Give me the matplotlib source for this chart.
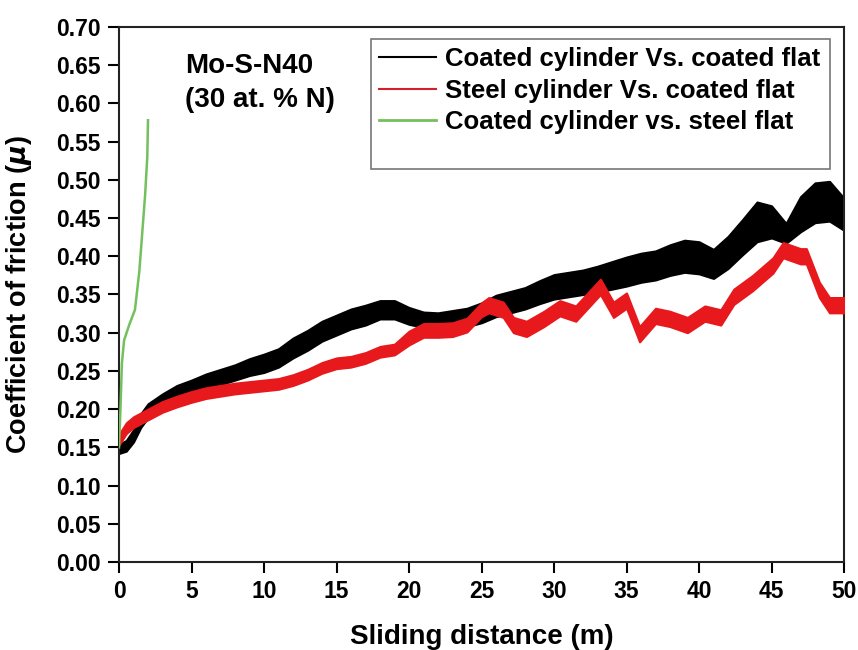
import matplotlib
matplotlib.use("Agg")
import matplotlib.pyplot as plt
from matplotlib.patches import Rectangle

# coated cylinder vs coated flat (black band: centre and half-width)
black_x = [0, 0.5, 1, 1.5, 2, 3, 4, 5, 6, 7, 8, 9, 10, 11, 12, 13, 14, 15, 16, 17, 18, 19, 20,
           21, 22, 23, 24, 25, 26, 27, 28, 29, 30, 31, 32, 33, 34, 35, 36, 37, 38, 39, 40,
           41, 42, 43, 44, 45, 46, 47, 48, 49, 50]
black_mid = [0.148, 0.152, 0.165, 0.185, 0.198, 0.210, 0.221, 0.228, 0.236, 0.242, 0.248, 0.255, 0.260,
             0.267, 0.280, 0.290, 0.302, 0.310, 0.318, 0.323, 0.330, 0.330, 0.322,
             0.317, 0.316, 0.318, 0.320, 0.326, 0.335, 0.340, 0.345, 0.353, 0.360,
             0.363, 0.366, 0.370, 0.375, 0.380, 0.385, 0.388, 0.395, 0.400, 0.398,
             0.390, 0.405, 0.425, 0.445, 0.445, 0.430, 0.455, 0.470, 0.472, 0.455]
black_half = [0.006, 0.007, 0.008, 0.009, 0.009, 0.010, 0.010, 0.010, 0.010, 0.010, 0.010, 0.011, 0.012,
              0.012, 0.013, 0.013, 0.013, 0.013, 0.013, 0.013, 0.012, 0.012, 0.011,
              0.010, 0.010, 0.011, 0.012, 0.013, 0.014, 0.014, 0.014, 0.015, 0.016,
              0.016, 0.016, 0.017, 0.018, 0.019, 0.019, 0.019, 0.020, 0.021, 0.021,
              0.019, 0.021, 0.023, 0.026, 0.021, 0.013, 0.023, 0.026, 0.026, 0.021]

# steel cylinder vs coated flat (red band)
red_x = [0, 0.5, 1, 1.5, 2, 3, 4, 5, 6, 7, 8, 9, 10, 11, 12, 13, 14, 15, 16, 17, 18, 19, 20,
         21, 22, 23, 24, 25, 25.5, 26.5, 27.2, 28.1, 29.3, 30.4, 31.5, 33.2, 34.1, 35.0, 35.9,
         37.0, 38.0, 39.2, 40.4, 41.5, 42.4, 43.7, 45.1, 45.8, 47.0, 47.4, 48.3, 49.0, 50]
red_mid = [0.160, 0.175, 0.183, 0.188, 0.193, 0.203, 0.210, 0.216, 0.221, 0.224, 0.227, 0.229, 0.231,
           0.233, 0.238, 0.245, 0.254, 0.260, 0.262, 0.267, 0.275, 0.278, 0.293,
           0.303, 0.303, 0.304, 0.310, 0.330, 0.336, 0.330, 0.310, 0.305, 0.318, 0.332, 0.325,
           0.360, 0.330, 0.342, 0.298, 0.322, 0.318, 0.310, 0.325, 0.320, 0.347, 0.365,
           0.388, 0.408, 0.400, 0.400, 0.356, 0.336, 0.336]
red_half = [0.007] * 22 + [0.009] * 6 + [0.010] * 25

# coated cylinder vs steel flat (green)
green_x = [0, 0.1, 0.2, 0.35, 0.7, 1.1, 1.4, 1.6, 1.8, 1.95, 2.0]
green_y = [0.15, 0.20, 0.26, 0.29, 0.31, 0.33, 0.38, 0.43, 0.48, 0.53, 0.578]

labels = ["Coated cylinder Vs. coated flat", "Steel cylinder Vs. coated flat",
          "Coated cylinder vs. steel flat"]
x_ticks = [0, 5, 10, 15, 20, 25, 30, 35, 40, 45, 50]
y_ticks = [0.00, 0.05, 0.10, 0.15, 0.20, 0.25, 0.30, 0.35, 0.40, 0.45, 0.50, 0.55, 0.60, 0.65, 0.70]

plt.rcParams["font.family"] = ["Liberation Sans", "DejaVu Sans"]
plt.rcParams["font.weight"] = "bold"

fig = plt.figure(figsize=(8.58, 6.5), dpi=100)
ax = fig.add_axes([0.1387, 0.1354, 0.9837 - 0.1387, 0.9585 - 0.1354])

black_lo = [m - h for m, h in zip(black_mid, black_half)]
black_hi = [m + h for m, h in zip(black_mid, black_half)]
red_lo = [m - h for m, h in zip(red_mid, red_half)]
red_hi = [m + h for m, h in zip(red_mid, red_half)]

ax.fill_between(black_x, black_lo, black_hi, color="black", lw=1.5, edgecolor="black", zorder=2)
ax.fill_between(red_x, red_lo, red_hi, color="#e8191c", lw=1.5, edgecolor="#e8191c", zorder=3)
ax.plot(green_x, green_y, color="#74c05c", lw=1.8, zorder=4)

h1, = ax.plot([], [], color="black", lw=1.5)
h2, = ax.plot([], [], color="#d0202a", lw=1.5)
h3, = ax.plot([], [], color="#74c05c", lw=2)
ax.legend([h1, h2, h3], labels, loc="upper left", bbox_to_anchor=(0.345, 0.981),
          frameon=False, fontsize=18.5, handlelength=2.2, handletextpad=0.35,
          labelspacing=0.28, borderaxespad=0)
ax.add_patch(Rectangle((0.3476, 0.7346), 0.9800 - 0.3476, 0.9776 - 0.7346, transform=ax.transAxes,
                       fill=False, edgecolor="#777777", lw=1.2, zorder=5))

ax.text(0.091, 0.952, "Mo-S-N40\n(30 at. % N)", transform=ax.transAxes, fontsize=20,
        fontweight="bold", va="top", ha="left", multialignment="left", linespacing=1.42)

ax.set_xlim(0, 50)
ax.set_ylim(0, 0.70)
ax.set_xticks(x_ticks)
ax.set_yticks(y_ticks)
ax.set_xticklabels([str(t) for t in x_ticks])
ax.set_yticklabels(["%.2f" % t for t in y_ticks])
ax.tick_params(direction="out", length=8, width=1.5, labelsize=16.5, pad=5)
for s in ax.spines.values():
    s.set_linewidth(1.5)
    s.set_color("#222222")

ax.set_xlabel("Sliding distance (m)", fontsize=20, fontweight="bold")
ax.xaxis.set_label_coords(0.5, -0.116)
ax.set_ylabel(r"Coefficient of friction ($\mu$)", fontsize=19.5, fontweight="bold")
ax.yaxis.set_label_coords(-0.117, 0.5)

fig.savefig("out.png", dpi=100)
